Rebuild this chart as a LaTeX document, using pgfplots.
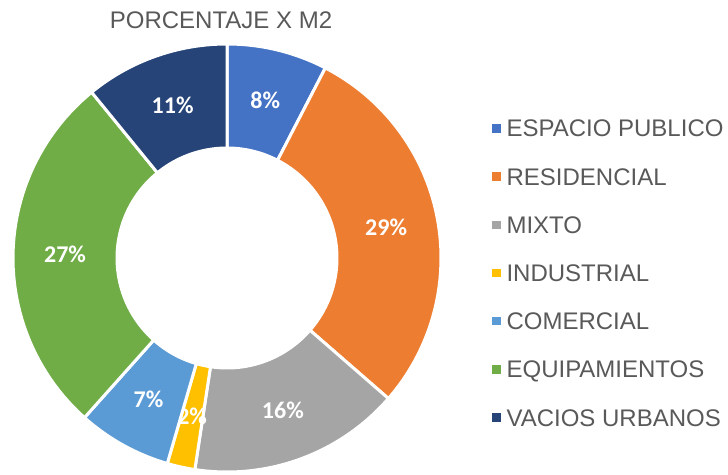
\documentclass[border=0pt]{standalone}
\usepackage{fontspec}
\setmainfont{Liberation Sans}
\newfontfamily\calibri{Carlito}
\usepackage{pgfplots}
\pgfplotsset{compat=1.18}

\definecolor{cEsp}{HTML}{4472C4}
\definecolor{cRes}{HTML}{ED7D31}
\definecolor{cMix}{HTML}{A5A5A5}
\definecolor{cInd}{HTML}{FFC000}
\definecolor{cCom}{HTML}{5B9BD5}
\definecolor{cEqu}{HTML}{70AD47}
\definecolor{cVac}{HTML}{264478}
\definecolor{txtgray}{HTML}{595959}

\tikzset{lbl/.style={font=\calibri\bfseries\fontsize{24bp}{28bp}\selectfont, text=white}}

% ring centre and radii, in picture units (1 unit = 1 px of the 728x475 chart)
\def\cx{227}\def\cy{217}\def\Ro{214}\def\Ri{110}\def\Rm{162}
\gdef\cum{0}

% \slice{share in percent}{colour}{label}: one ring segment, clockwise from the top
\newcommand\slice[3]{%
  \pgfmathsetmacro\sa{\cum}%
  \pgfmathsetmacro\sb{\cum+#1}%
  \pgfmathsetmacro\am{90-3.6*(\sa+\sb)/2}%
  \pgfmathsetmacro\lx{\cx+\Rm*cos(\am)}%
  \pgfmathsetmacro\ly{\cy+\Rm*sin(\am)}%
  \xdef\cum{\sb}%
  \edef\tmp{%
    \noexpand\addplot[fill=#2, draw=white, line width=3bp, domain=0:101, samples=102, variable=\noexpand\t]
      ({\cx+ifthenelse(\noexpand\t<50.5,\Ro,\Ri)*cos(90-3.6*(\sa+(\sb-\sa)*ifthenelse(\noexpand\t<50.5,\noexpand\t/50,(101-\noexpand\t)/50)))},
       {\cy+ifthenelse(\noexpand\t<50.5,\Ro,\Ri)*sin(90-3.6*(\sa+(\sb-\sa)*ifthenelse(\noexpand\t<50.5,\noexpand\t/50,(101-\noexpand\t)/50)))}) -- cycle;%
    \noexpand\node[lbl] at (axis cs:\lx,\ly) {#3\noexpand\%};%
  }\tmp}

\begin{document}
\begin{tikzpicture}
\begin{axis}[
    width=728bp, height=475bp,
    scale only axis,
    xmin=0, xmax=728, ymin=0, ymax=475,
    hide axis,
    clip=false,
    legend image code/.code={\fill[#1, draw=none] (0bp,-4.2bp) rectangle (8.4bp,4.2bp);},
    legend style={
        draw=none, fill=none, inner sep=0pt,
        at={(0.6762,0.7484)}, anchor=north west,
        font=\fontsize{24bp}{28bp}\selectfont, text=txtgray,
        row sep=31bp, column sep=5.7bp,
        nodes={inner sep=0pt, text height=17.2bp, text depth=0bp},
        cells={anchor=west},
    },
]
\slice{7.6}{cEsp}{8}
\addlegendentry{ESPACIO PUBLICO}
\slice{28.8}{cRes}{29}
\addlegendentry{RESIDENCIAL}
\slice{16.0}{cMix}{16}
\addlegendentry{MIXTO}
\slice{2.1}{cInd}{2}
\addlegendentry{INDUSTRIAL}
\slice{7.1}{cCom}{7}
\addlegendentry{COMERCIAL}
\slice{27.5}{cEqu}{27}
\addlegendentry{EQUIPAMIENTOS}
\slice{10.9}{cVac}{11}
\addlegendentry{VACIOS URBANOS}

\node[font=\fontsize{24bp}{28bp}\selectfont, text=txtgray, anchor=base] at (axis cs:221,446.7) {PORCENTAJE X M2};
\end{axis}
\pgfresetboundingbox
\path (current axis.south west) rectangle (current axis.north east);
\end{tikzpicture}
\end{document}
